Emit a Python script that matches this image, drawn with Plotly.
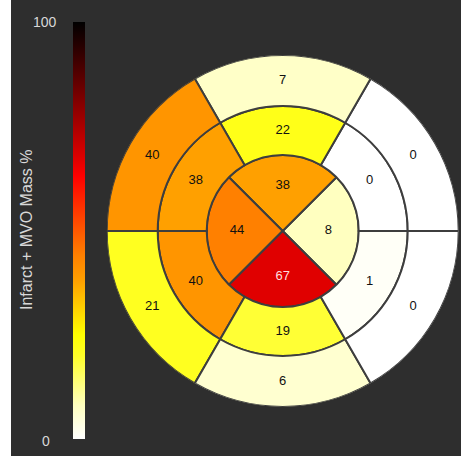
import plotly.graph_objects as go

# ---- data ----
outer_values = [0, 7, 40, 21, 6, 0]        # segments centred at 30,90,150,210,270,330 deg
middle_values = [0, 22, 38, 40, 19, 1]
inner_values = [8, 38, 44, 67]             # centred at 0,90,180,270 deg
outer_angles = [30, 90, 150, 210, 270, 330]
inner_angles = [0, 90, 180, 270]
ring_edges = [0, 76, 125, 176]             # radial boundaries (inner, middle, outer rings)
cbar_ticks = ["0", "100"]
cbar_title = "Infarct + MVO Mass %"

W, H = 461, 456
BG = "#2e2e2e"
LINE = "#3e3e3e"
FONT = "Liberation Sans, Arial, sans-serif"

colorscale = [
    [0.00, "#ffffff"],
    [0.08, "#ffffc0"],
    [0.20, "#ffff28"],
    [0.25, "#ffff00"],
    [0.38, "#ffa000"],
    [0.44, "#ff8000"],
    [0.63, "#ff0000"],
    [0.67, "#e00000"],
    [1.00, "#000000"],
]

fig = go.Figure()

rings = [
    (inner_values, inner_angles, 90, ring_edges[0], ring_edges[1]),
    (middle_values, outer_angles, 60, ring_edges[1], ring_edges[2]),
    (outer_values, outer_angles, 60, ring_edges[2], ring_edges[3]),
]

for i, (vals, angs, w, r0, r1) in enumerate(rings):
    fig.add_trace(go.Barpolar(
        r=[r1 - r0] * len(vals),
        base=[r0] * len(vals),
        theta=angs,
        width=[w] * len(vals),
        marker=dict(
            color=vals, colorscale=colorscale, cmin=0, cmax=100,
            line=dict(color=LINE, width=2),
            showscale=(i == 0),
            colorbar=dict(
                x=73 / W, xanchor="left", xpad=0,
                y=(H - 230.5) / H, yanchor="middle", ypad=0,
                thickness=12, thicknessmode="pixels",
                len=417, lenmode="pixels",
                outlinewidth=0, showticklabels=False, ticks="",
            ),
        ),
        showlegend=False, hoverinfo="skip",
    ))

# labels: dark text on light segments, light text on dark segments
for dark in (True, False):
    rr, tt, txt = [], [], []
    for vals, angs, w, r0, r1 in rings:
        rmid = (r0 + r1) / 2 if r0 > 0 else r1 * 0.6
        for v, a in zip(vals, angs):
            if (v <= 60) == dark:
                rr.append(rmid)
                tt.append(a)
                txt.append(str(v))
    fig.add_trace(go.Scatterpolar(
        r=rr, theta=tt, mode="text", text=txt,
        textfont=dict(family=FONT, size=13, color="#111111" if dark else "#ffdede"),
        showlegend=False, hoverinfo="skip",
    ))

cx, cy, R = 282.7, 231, 176
ann_font = dict(family=FONT, size=14, color="#d8d8d8")
fig.update_layout(
    width=W, height=H,
    margin=dict(l=0, r=0, t=0, b=0),
    paper_bgcolor=BG,
    plot_bgcolor=BG,
    polar=dict(
        domain=dict(x=[(cx - R) / W, (cx + R) / W],
                    y=[(H - cy - R) / H, (H - cy + R) / H]),
        bgcolor="rgba(0,0,0,0)",
        bargap=0,
        radialaxis=dict(visible=False, range=[0, ring_edges[-1]]),
        angularaxis=dict(visible=False, direction="counterclockwise", rotation=0),
    ),
    shapes=[dict(type="rect", xref="paper", yref="paper", x0=0, x1=11 / W,
                 y0=0, y1=1, fillcolor="white", line=dict(width=0), layer="below")],
    annotations=[
        dict(text=cbar_ticks[1], x=45 / W, y=(H - 22) / H, xref="paper", yref="paper",
             showarrow=False, xanchor="center", yanchor="middle", font=ann_font),
        dict(text=cbar_ticks[0], x=45.5 / W, y=(H - 441) / H, xref="paper", yref="paper",
             showarrow=False, xanchor="center", yanchor="middle", font=ann_font),
        dict(text=cbar_title, x=26 / W, y=(H - 230) / H, xref="paper", yref="paper",
             showarrow=False, textangle=-90, xanchor="center", yanchor="middle",
             font=dict(family=FONT, size=16, color="#d8d8d8")),
    ],
)

fig.write_html(
    "out.html",
    config={"displayModeBar": False},
    post_script="document.body.style.margin='0';document.body.style.background='#2e2e2e';",
)
